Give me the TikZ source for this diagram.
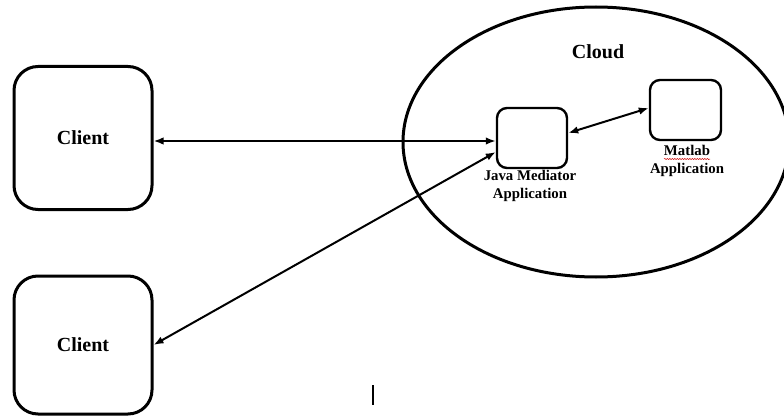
\documentclass[tikz,border=0pt]{standalone}
\usepackage{fontspec}
\setmainfont{Liberation Serif}
\usetikzlibrary{shapes.geometric,arrows.meta,decorations.pathmorphing}
\tikzset{
  clientbox/.style={draw, line width=3pt, rounded corners=24pt, minimum width=138pt, inner sep=0pt, font=\fontsize{20}{22}\selectfont\bfseries},
  appbox/.style={draw, line width=2.4pt, rounded corners=10pt, minimum width=70pt, minimum height=60pt, inner sep=0pt},
  applabel/.style={align=center, font=\fontsize{14.8}{18}\selectfont\bfseries, inner sep=0pt},
  link/.style={line width=2pt, {Latex[length=10pt,width=7.5pt]}-{Latex[length=10pt,width=7.5pt]}}
}
\begin{document}
\begin{tikzpicture}[x=1pt,y=-1pt]
\useasboundingbox (0,0) rectangle (784,417);
\clip (0,0) rectangle (784,417);
\fill[white] (0,0) rectangle (784,417);
\node[draw, ellipse, line width=3pt, minimum width=386pt, minimum height=270pt, inner sep=0pt] (cloud) at (596,142) {};
\node[font=\fontsize{20}{22}\selectfont\bfseries] (cloudlbl) at (598,52) {Cloud};
\node[clientbox, minimum height=143pt] (c1) at (83,138) {Client};
\node[clientbox, minimum height=138pt] (c2) at (83,345) {Client};
\node[appbox] (java) at (532,138) {};
\node[appbox, minimum width=71pt] (matlab) at (685.5,110) {};
\node[applabel] (javalbl) at (530,186) {Java Mediator\\Application};
\node[applabel] (matlbl) at (687,161) {Matlab\\Application};
\draw[red!80!black, line width=0.5pt, decorate, decoration={snake, amplitude=0.6pt, segment length=2.5pt}] (664,159) -- (710,159);
\draw[link] (c1.east |- 0,141) -- ([yshift=-3pt]java.west);
\draw[link] (c2.east) -- ([yshift=-14pt]java.west);
\draw[link] ([yshift=5pt]java.east) -- ([yshift=2pt]matlab.west);
\coordinate (curtop) at (373,385);
\coordinate (curbot) at (373,405);
\draw[line width=1.4pt] (curtop) -- (curbot);
\end{tikzpicture}
\end{document}
